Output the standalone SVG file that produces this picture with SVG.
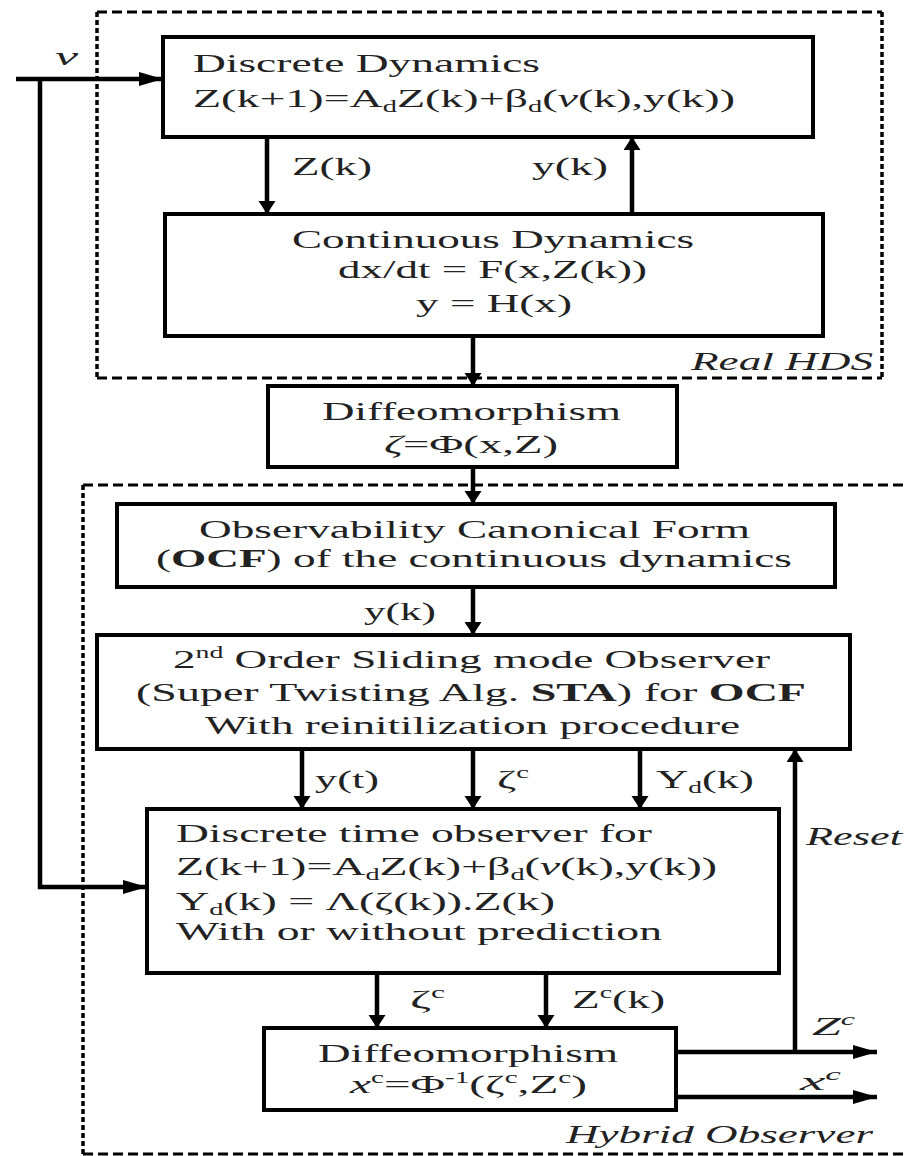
<svg xmlns="http://www.w3.org/2000/svg" width="906" height="1156" viewBox="0 0 906 1156">
<style>
text{font-family:"Liberation Serif","Times New Roman",serif;font-size:26px;fill:#222}
.it{font-style:italic}
.b{font-weight:bold}
.sub{font-size:16px}
.box{fill:#fff;stroke:#000;stroke-width:4}
.con{fill:none;stroke:#000;stroke-width:4.5}
.dh{fill:none;stroke:#000;stroke-width:3;stroke-dasharray:10 5}
.dv{fill:none;stroke:#000;stroke-width:3.5;stroke-dasharray:5 3}
</style>
<defs>
<marker id="av" markerUnits="userSpaceOnUse" markerWidth="14" markerHeight="18" refX="13" refY="8.5" orient="auto"><path d="M0,0 L13,8.5 L0,17 z" fill="#000"/></marker>
<marker id="ah" markerUnits="userSpaceOnUse" markerWidth="26" markerHeight="16" refX="24" refY="7" orient="auto"><path d="M0,0 L24,7 L0,14 z" fill="#000"/></marker>
</defs>

<g id="real-hds">
<line class="dh" x1="97" y1="12" x2="882" y2="12"/>
<line class="dh" x1="97" y1="378" x2="882" y2="378"/>
<line class="dv" x1="97" y1="12" x2="97" y2="378"/>
<line class="dv" x1="882" y1="12" x2="882" y2="378"/>
<text class="it" x="691" y="370" textLength="182" lengthAdjust="spacingAndGlyphs">Real HDS</text>
</g>

<g id="hybrid-observer">
<line class="dh" x1="83" y1="485" x2="906" y2="485"/>
<line class="dh" x1="83" y1="1154" x2="906" y2="1154"/>
<line class="dv" x1="83" y1="485" x2="83" y2="1156"/>
<text class="it" x="566" y="1143" textLength="307" lengthAdjust="spacingAndGlyphs">Hybrid Observer</text>
</g>

<g id="connectors">
<path class="con" d="M16,79 H163" marker-end="url(#ah)"/>
<path class="con" d="M40,79 V887 H147" marker-end="url(#ah)"/>
<path class="con" d="M267,137 V214" marker-end="url(#av)"/>
<path class="con" d="M632,214 V137" marker-end="url(#av)"/>
<path class="con" d="M473,336 V386" marker-end="url(#av)"/>
<path class="con" d="M473,467 V504" marker-end="url(#av)"/>
<path class="con" d="M473,587 V635" marker-end="url(#av)"/>
<path class="con" d="M302,749 V809" marker-end="url(#av)"/>
<path class="con" d="M473,749 V809" marker-end="url(#av)"/>
<path class="con" d="M640,749 V809" marker-end="url(#av)"/>
<path class="con" d="M377,973 V1028" marker-end="url(#av)"/>
<path class="con" d="M546,973 V1028" marker-end="url(#av)"/>
<path class="con" d="M676,1052 H877" marker-end="url(#ah)"/>
<path class="con" d="M795,1052 V749" marker-end="url(#av)"/>
<path class="con" d="M676,1097 H877" marker-end="url(#ah)"/>
<text class="it" x="55" y="65" textLength="23" lengthAdjust="spacingAndGlyphs">ν</text>
<text x="292" y="175" textLength="80" lengthAdjust="spacingAndGlyphs">Z(k)</text>
<text x="532" y="175" textLength="76" lengthAdjust="spacingAndGlyphs">y(k)</text>
<text x="364" y="620" textLength="72" lengthAdjust="spacingAndGlyphs">y(k)</text>
<text x="315" y="788" textLength="64" lengthAdjust="spacingAndGlyphs">y(t)</text>
<text x="497" y="788" textLength="32" lengthAdjust="spacingAndGlyphs">ζ<tspan class="sub" dy="-10">c</tspan></text>
<text x="656" y="788" textLength="98" lengthAdjust="spacingAndGlyphs">Y<tspan class="sub" dy="5">d</tspan><tspan dy="-5">(k)</tspan></text>
<text class="it" x="806" y="845" textLength="96" lengthAdjust="spacingAndGlyphs">Reset</text>
<text x="410" y="1008" textLength="35" lengthAdjust="spacingAndGlyphs">ζ<tspan class="sub" dy="-10">c</tspan></text>
<text x="572" y="1008" textLength="93" lengthAdjust="spacingAndGlyphs">Z<tspan class="sub" dy="-10">c</tspan><tspan dy="10">(k)</tspan></text>
<text class="it" x="812" y="1035" textLength="43" lengthAdjust="spacingAndGlyphs">Z<tspan class="sub" dy="-10">c</tspan></text>
<text class="it" x="800" y="1090" textLength="41" lengthAdjust="spacingAndGlyphs">x<tspan class="sub" dy="-10">c</tspan></text>
</g>

<g id="discrete-dynamics">
<rect class="box" x="163" y="37" width="650" height="100"/>
<text x="193" y="72" textLength="347" lengthAdjust="spacingAndGlyphs">Discrete Dynamics</text>
<text x="193" y="107" textLength="542" lengthAdjust="spacingAndGlyphs">Z(k+1)=A<tspan class="sub" dy="5">d</tspan><tspan dy="-5">Z(k)+β</tspan><tspan class="sub" dy="5">d</tspan><tspan dy="-5">(</tspan><tspan class="it">ν</tspan>(k),y(k))</text>
</g>

<g id="continuous-dynamics">
<rect class="box" x="165" y="214" width="658" height="122"/>
<text x="292" y="248" textLength="402" lengthAdjust="spacingAndGlyphs">Continuous Dynamics</text>
<text x="338" y="278" textLength="309" lengthAdjust="spacingAndGlyphs">dx/dt = F(x,Z(k))</text>
<text x="416" y="312" textLength="156" lengthAdjust="spacingAndGlyphs">y = H(x)</text>
</g>

<g id="diffeomorphism">
<rect class="box" x="268" y="386" width="409" height="81"/>
<text x="322" y="420" textLength="299" lengthAdjust="spacingAndGlyphs">Diffeomorphism</text>
<text x="384" y="453" textLength="174" lengthAdjust="spacingAndGlyphs"><tspan class="it">ζ</tspan>=Φ(x,Z)</text>
</g>

<g id="ocf">
<rect class="box" x="117" y="504" width="718" height="83"/>
<text x="199" y="538" textLength="551" lengthAdjust="spacingAndGlyphs">Observability Canonical Form</text>
<text x="156" y="567" textLength="636" lengthAdjust="spacingAndGlyphs">(<tspan class="b">OCF</tspan>) of the continuous dynamics</text>
</g>

<g id="sta-observer">
<rect class="box" x="97" y="635" width="753" height="114"/>
<text x="173" y="668" textLength="597" lengthAdjust="spacingAndGlyphs">2<tspan class="sub" dy="-10">nd</tspan><tspan dy="10"> Order Sliding mode Observer</tspan></text>
<text x="136" y="701" textLength="670" lengthAdjust="spacingAndGlyphs">(Super Twisting Alg. <tspan class="b">STA</tspan>) for <tspan class="b">OCF</tspan></text>
<text x="205" y="734" textLength="535" lengthAdjust="spacingAndGlyphs">With reinitilization procedure</text>
</g>

<g id="discrete-time-observer">
<rect class="box" x="147" y="809" width="632" height="164"/>
<text x="176" y="842" textLength="476" lengthAdjust="spacingAndGlyphs">Discrete time observer for</text>
<text x="176" y="875" textLength="541" lengthAdjust="spacingAndGlyphs">Z(k+1)=A<tspan class="sub" dy="5">d</tspan><tspan dy="-5">Z(k)+β</tspan><tspan class="sub" dy="5">d</tspan><tspan dy="-5">(</tspan><tspan class="it">ν</tspan>(k),y(k))</text>
<text x="176" y="910" textLength="379" lengthAdjust="spacingAndGlyphs">Y<tspan class="sub" dy="5">d</tspan><tspan dy="-5">(k) = Λ(ζ(k)).Z(k)</tspan></text>
<text x="176" y="940" textLength="486" lengthAdjust="spacingAndGlyphs">With or without prediction</text>
</g>

<g id="inverse-diffeomorphism">
<rect class="box" x="264" y="1028" width="412" height="82"/>
<text x="318" y="1062" textLength="300" lengthAdjust="spacingAndGlyphs">Diffeomorphism</text>
<text x="350" y="1093" textLength="237" lengthAdjust="spacingAndGlyphs"><tspan class="it">x</tspan><tspan class="sub" dy="-10">c</tspan><tspan dy="10">=Φ</tspan><tspan class="sub" dy="-10">-1</tspan><tspan dy="10">(ζ</tspan><tspan class="sub" dy="-10">c</tspan><tspan dy="10">,Z</tspan><tspan class="sub" dy="-10">c</tspan><tspan dy="10">)</tspan></text>
</g>
</svg>
